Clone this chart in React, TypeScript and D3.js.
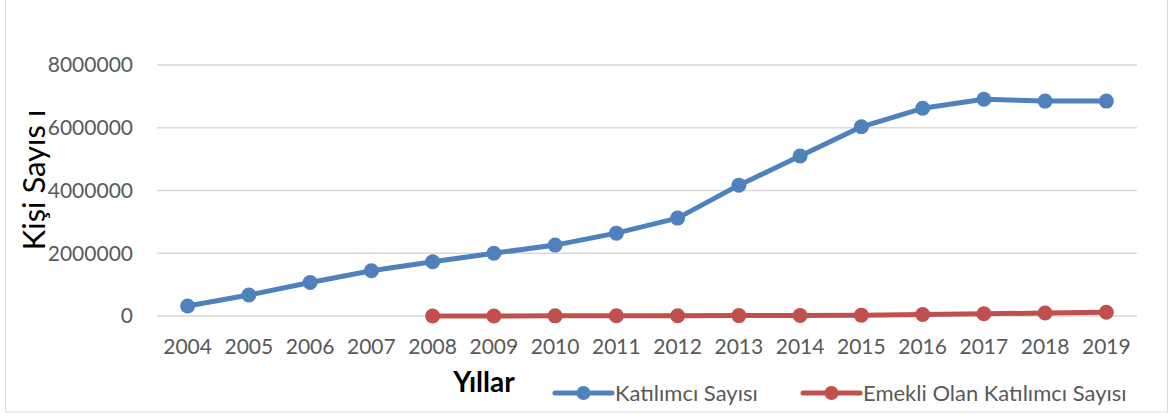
import React, { useRef, useEffect } from 'react';
import * as d3 from 'd3';

const years = ['2004', '2005', '2006', '2007', '2008', '2009', '2010', '2011', '2012', '2013', '2014', '2015', '2016', '2017', '2018', '2019'];
const katilimci = [320000, 670000, 1070000, 1440000, 1730000, 2000000, 2260000, 2640000, 3120000, 4170000, 5100000, 6030000, 6620000, 6910000, 6850000, 6850000];
const emekliYears = ['2008', '2009', '2010', '2011', '2012', '2013', '2014', '2015', '2016', '2017', '2018', '2019'];
const emekli = [0, 2000, 5000, 8000, 10000, 12000, 17000, 27000, 47000, 70000, 95000, 120000];
const yTicks = [0, 2000000, 4000000, 6000000, 8000000];

const seriesNames = ['Katılımcı Sayısı', 'Emekli Olan Katılımcı Sayısı'];
const colors = ['#4F81BD', '#C0504D'];

export default function App() {
  const svgRef = useRef<SVGSVGElement>(null);

  useEffect(() => {
    const svg = d3.select(svgRef.current);
    svg.selectAll('*').remove();

    const width = 1173;
    const height = 417;
    const margin = { top: 65, right: 36, bottom: 101, left: 157 };
    const font = 'Lato, "Open Sans", sans-serif';

    svg.attr('width', width).attr('height', height);

    svg.append('rect')
      .attr('x', 5.5).attr('y', -1)
      .attr('width', 1162).attr('height', 413)
      .attr('fill', 'white')
      .attr('stroke', '#d9d9d9');

    const x = d3.scaleBand()
      .domain(years)
      .range([margin.left, width - margin.right]);

    const y = d3.scaleLinear()
      .domain([0, 8000000])
      .range([height - margin.bottom, margin.top]);

    const cx = (d: string) => (x(d) as number) + x.bandwidth() / 2;

    // gridlines
    svg.append('g')
      .selectAll('line')
      .data(yTicks)
      .enter()
      .append('line')
      .attr('x1', margin.left)
      .attr('x2', width - margin.right)
      .attr('y1', d => y(d))
      .attr('y2', d => y(d))
      .attr('stroke', '#d9d9d9')
      .attr('stroke-width', 1.5);

    // y tick labels
    svg.append('g')
      .selectAll('text')
      .data(yTicks)
      .enter()
      .append('text')
      .attr('x', 133)
      .attr('y', d => y(d))
      .attr('dy', '0.35em')
      .attr('text-anchor', 'end')
      .attr('fill', '#595959')
      .style('font-family', font)
      .style('font-size', '21px')
      .text(d => String(d));

    // x tick labels
    svg.append('g')
      .selectAll('text')
      .data(years)
      .enter()
      .append('text')
      .attr('x', d => cx(d))
      .attr('y', 354)
      .attr('text-anchor', 'middle')
      .attr('fill', '#595959')
      .style('font-family', font)
      .style('font-size', '21px')
      .text(d => d);

    // axis titles
    svg.append('text')
      .attr('x', 484)
      .attr('y', 392)
      .attr('text-anchor', 'middle')
      .attr('fill', '#000')
      .style('font-family', font)
      .style('font-weight', 'bold')
      .style('font-size', '28px')
      .text('Yıllar');

    svg.append('text')
      .attr('transform', 'translate(45, 180) rotate(-90)')
      .attr('text-anchor', 'middle')
      .attr('fill', '#000')
      .style('font-family', font)
      .style('font-size', '31px')
      .text('Kişi Sayıs ı');

    const line = d3.line<[string, number]>()
      .x(d => cx(d[0]))
      .y(d => y(d[1]));

    const series: [string, number][][] = [
      years.map((yr, i) => [yr, katilimci[i]]),
      emekliYears.map((yr, i) => [yr, emekli[i]]),
    ];

    series.forEach((pts, si) => {
      svg.append('path')
        .datum(pts)
        .attr('d', line)
        .attr('fill', 'none')
        .attr('stroke', colors[si])
        .attr('stroke-width', 5)
        .attr('stroke-linejoin', 'round');

      svg.append('g')
        .selectAll('circle')
        .data(pts)
        .enter()
        .append('circle')
        .attr('cx', d => cx(d[0]))
        .attr('cy', d => y(d[1]))
        .attr('r', 7.5)
        .attr('fill', colors[si]);
    });

    // legend
    const legendX = [555, 803];
    seriesNames.forEach((name, i) => {
      const g = svg.append('g').attr('transform', `translate(${legendX[i]}, 393)`);
      g.append('line')
        .attr('x1', 0).attr('x2', 57)
        .attr('stroke', colors[i])
        .attr('stroke-width', 5)
        .attr('stroke-linecap', 'round');
      g.append('circle')
        .attr('cx', 28.5)
        .attr('r', 7)
        .attr('fill', colors[i]);
      g.append('text')
        .attr('x', 60)
        .attr('dy', '0.35em')
        .attr('fill', '#595959')
        .style('font-family', font)
        .style('font-size', '22px')
        .text(name);
    });
  }, []);

  return <svg ref={svgRef} style={{ position: 'absolute', left: 0, top: 0 }}></svg>;
}
